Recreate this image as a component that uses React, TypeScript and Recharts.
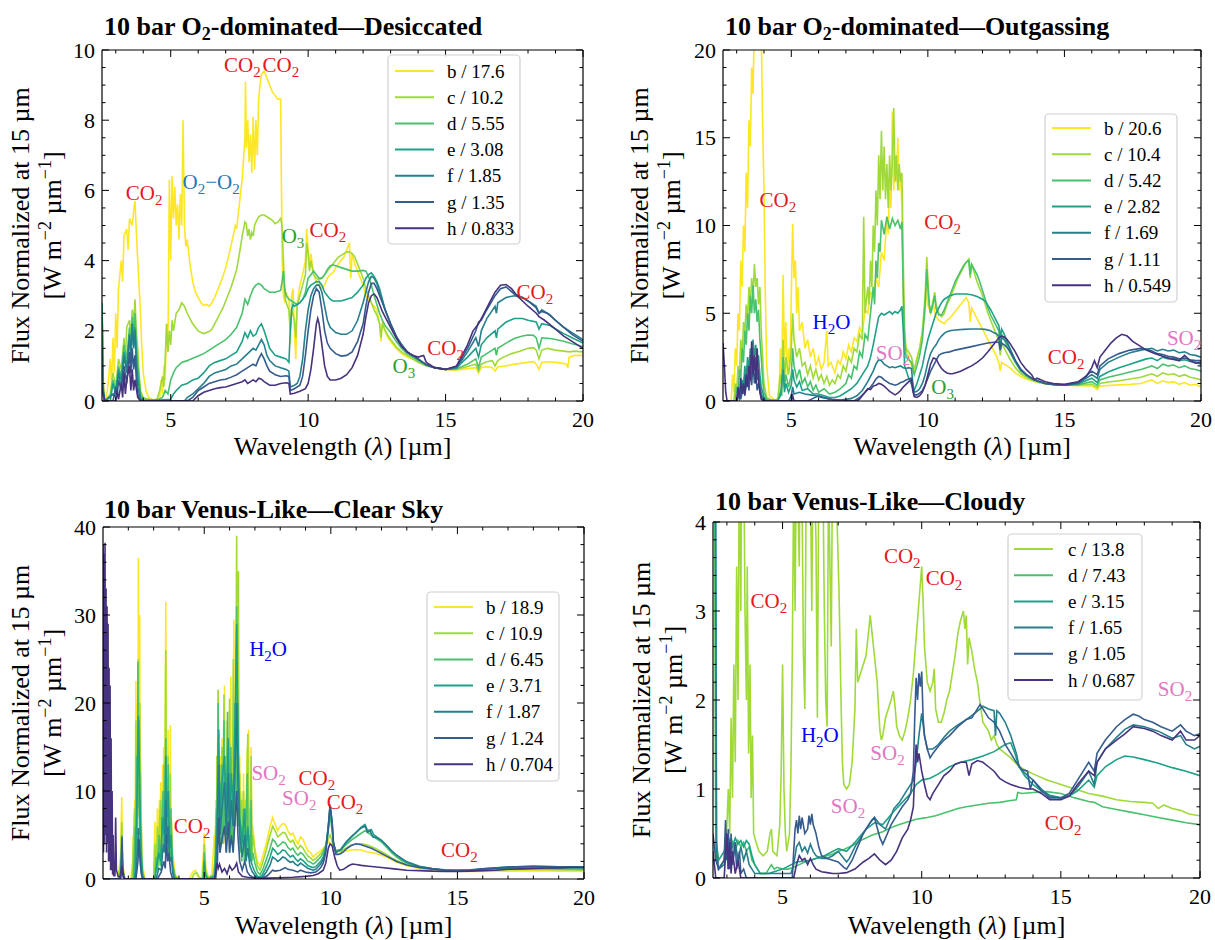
import React from 'react';
import { LineChart, Line, XAxis, YAxis, ReferenceDot } from 'recharts';

const FONT = "'Liberation Serif','Times New Roman',serif";

// ---------- colours (viridis) ----------
const COL_B = '#fde725';
const COL_C = '#a0da39';
const COL_D = '#4ac16d';
const COL_E = '#1fa187';
const COL_F = '#277f8e';
const COL_G = '#365c8d';
const COL_H = '#46327e';
const RED = '#e31a1c';
const PINK = '#e377c2';
const BLUE = '#0000ff';
const GREEN = '#2ca02c';
const STEEL = '#1f77b4';

// ---------- Panel 1: O2-dominated, Desiccated (x, y pairs) ----------
const P1_LABELS = ['b / 17.6', 'c / 10.2', 'd / 5.55', 'e / 3.08', 'f / 1.85', 'g / 1.35', 'h / 0.833'];
const P1_B = [2.5,2.8, 2.55,0.5, 2.6,0.0, 2.7,0.3, 2.8,1.2, 2.85,0.4, 2.9,1.8, 2.95,0.8, 3.0,2.5, 3.05,1.5, 3.1,3.2, 3.2,4.0, 3.25,3.4, 3.3,4.7, 3.4,4.9, 3.45,4.3, 3.5,5.2, 3.6,5.0, 3.65,5.4, 3.7,5.7, 3.75,4.8, 3.8,4.0, 3.85,3.3, 3.9,2.5, 3.95,1.5, 4.0,0.8, 4.1,0.3, 4.2,0.1, 4.4,0.02, 4.6,0.1, 4.65,0.6, 4.7,0.2, 4.75,1.0, 4.8,0.6, 4.85,2.2, 4.9,1.5, 4.95,6.3, 5.0,4.0, 5.05,6.4, 5.1,5.2, 5.15,6.1, 5.2,5.0, 5.25,5.6, 5.3,4.6, 5.35,5.9, 5.4,5.0, 5.45,8.0, 5.5,5.0, 5.55,4.4, 5.6,4.6, 5.7,3.9, 5.8,3.4, 5.9,3.1, 6.0,2.95, 6.1,2.8, 6.2,2.72, 6.3,2.75, 6.4,2.7, 6.5,2.8, 6.6,2.95, 6.7,3.15, 6.8,3.35, 6.9,3.55, 7.0,3.8, 7.1,4.1, 7.2,4.45, 7.3,4.8, 7.35,5.0, 7.4,4.9, 7.45,5.3, 7.5,5.6, 7.55,6.0, 7.6,6.3, 7.65,6.9, 7.7,7.5, 7.72,9.1, 7.75,7.2, 7.8,8.0, 7.85,6.8, 7.9,7.6, 7.95,6.5, 8.0,8.1, 8.05,6.6, 8.1,8.0, 8.15,7.0, 8.2,8.6, 8.25,9.0, 8.3,9.3, 8.4,9.4, 8.5,9.2, 8.6,9.0, 8.7,8.8, 8.8,8.7, 8.9,8.6, 9.0,8.6, 9.03,6.0, 9.06,3.8, 9.1,3.0, 9.15,2.8, 9.2,3.1, 9.3,2.9, 9.35,1.6, 9.4,3.0, 9.45,3.2, 9.5,2.0, 9.55,1.2, 9.6,2.8, 9.7,3.3, 9.8,3.6, 9.9,4.0, 9.95,4.9, 10.0,4.3, 10.05,3.8, 10.1,4.2, 10.2,3.6, 10.3,3.4, 10.4,3.3, 10.5,3.2, 10.6,3.3, 10.7,3.5, 10.8,3.6, 10.9,3.65, 11.0,3.8, 11.1,3.9, 11.2,4.0, 11.3,4.1, 11.4,4.3, 11.5,4.5, 11.55,3.5, 11.6,4.2, 11.7,3.9, 11.8,3.7, 11.9,3.5, 12.0,3.3, 12.1,3.0, 12.2,2.9, 12.3,2.8, 12.4,2.7, 12.5,2.6, 12.6,2.2, 12.65,1.7, 12.7,2.3, 12.8,2.0, 12.9,1.8, 13.0,1.7, 13.2,1.5, 13.4,1.35, 13.6,1.25, 13.8,1.2, 14.0,1.1, 14.2,1.05, 14.4,1.0, 14.6,0.95, 14.8,0.92, 15.0,0.9, 15.3,0.88, 15.6,0.9, 15.9,0.93, 16.1,0.95, 16.2,0.8, 16.3,0.95, 16.5,0.98, 16.7,0.95, 16.8,0.85, 16.9,0.97, 17.2,1.0, 17.5,1.05, 17.8,1.08, 18.0,1.1, 18.2,1.12, 18.3,1.05, 18.4,0.9, 18.5,1.1, 18.7,1.12, 19.0,1.1, 19.2,1.08, 19.4,1.05, 19.45,0.95, 19.5,1.25, 19.7,1.3, 20.0,1.3];
const P1_C = [2.5,2.6, 2.55,0.3, 2.6,0.0, 2.8,0.2, 2.9,0.8, 3.0,0.4, 3.1,1.2, 3.2,0.9, 3.3,1.8, 3.35,1.2, 3.4,2.1, 3.5,2.3, 3.55,1.8, 3.6,2.6, 3.65,2.2, 3.7,2.9, 3.75,2.0, 3.8,1.5, 3.85,0.8, 3.9,0.3, 4.0,0.1, 4.3,0.02, 4.5,0.05, 4.6,0.3, 4.7,0.7, 4.75,0.4, 4.8,1.2, 4.85,2.2, 4.9,1.4, 4.95,2.0, 5.0,1.6, 5.05,2.3, 5.1,2.0, 5.2,2.5, 5.3,2.6, 5.4,2.8, 5.5,2.7, 5.6,2.5, 5.7,2.35, 5.8,2.2, 5.9,2.1, 6.0,2.0, 6.1,1.95, 6.2,1.92, 6.3,1.95, 6.4,1.98, 6.5,2.05, 6.6,2.2, 6.7,2.35, 6.8,2.5, 6.9,2.65, 7.0,2.85, 7.1,3.05, 7.2,3.25, 7.3,3.5, 7.4,3.75, 7.5,4.2, 7.6,4.7, 7.7,5.1, 7.75,5.05, 7.8,4.7, 7.85,4.9, 7.9,4.6, 7.95,4.8, 8.0,4.7, 8.05,5.0, 8.1,5.1, 8.2,5.25, 8.3,5.3, 8.4,5.3, 8.5,5.25, 8.6,5.2, 8.7,5.15, 8.8,5.05, 8.9,5.1, 9.0,5.2, 9.05,5.0, 9.1,4.0, 9.15,3.0, 9.2,2.8, 9.3,2.6, 9.35,2.0, 9.4,2.6, 9.5,2.3, 9.55,1.8, 9.6,2.7, 9.7,3.0, 9.8,3.3, 9.9,3.6, 9.95,4.5, 10.0,4.2, 10.05,3.7, 10.1,4.0, 10.2,3.6, 10.3,3.5, 10.4,3.45, 10.5,3.5, 10.6,3.6, 10.7,3.7, 10.8,3.8, 10.9,3.9, 11.0,4.0, 11.1,4.1, 11.2,4.15, 11.3,4.2, 11.4,4.25, 11.5,4.25, 11.6,4.2, 11.7,4.1, 11.8,3.9, 11.9,3.7, 12.0,3.5, 12.1,3.2, 12.2,3.0, 12.3,2.8, 12.4,2.6, 12.5,2.45, 12.6,2.2, 12.65,1.8, 12.7,2.2, 12.8,2.0, 13.0,1.75, 13.2,1.55, 13.4,1.4, 13.6,1.3, 13.8,1.2, 14.0,1.1, 14.3,1.0, 14.6,0.95, 15.0,0.9, 15.4,0.9, 15.8,0.98, 16.1,1.05, 16.2,0.85, 16.3,1.05, 16.5,1.12, 16.7,1.15, 16.8,1.0, 16.9,1.15, 17.1,1.25, 17.4,1.35, 17.7,1.42, 18.0,1.5, 18.2,1.52, 18.3,1.45, 18.4,1.2, 18.5,1.45, 18.7,1.5, 19.0,1.45, 19.3,1.42, 19.5,1.4, 19.7,1.42, 20.0,1.4];
const P1_D = [2.5,2.7, 2.55,0.2, 2.6,0.0, 2.8,0.1, 2.9,0.6, 3.0,0.3, 3.1,1.0, 3.2,0.7, 3.3,1.6, 3.4,1.2, 3.5,2.1, 3.55,1.5, 3.6,2.4, 3.65,1.9, 3.7,2.5, 3.75,1.6, 3.8,1.0, 3.9,0.2, 4.0,0.05, 4.5,0.02, 4.7,0.1, 4.8,0.3, 4.9,0.2, 5.0,0.6, 5.1,0.8, 5.2,0.95, 5.4,1.1, 5.6,1.15, 5.8,1.22, 6.0,1.28, 6.2,1.35, 6.4,1.45, 6.6,1.55, 6.8,1.65, 7.0,1.75, 7.2,1.9, 7.4,2.1, 7.6,2.5, 7.7,2.9, 7.8,2.75, 7.9,3.0, 8.0,3.2, 8.1,3.3, 8.2,3.35, 8.3,3.3, 8.4,3.2, 8.5,3.15, 8.6,3.1, 8.8,3.1, 9.0,3.15, 9.05,3.4, 9.1,3.7, 9.15,3.2, 9.2,3.0, 9.3,2.9, 9.4,2.85, 9.5,2.8, 9.6,2.75, 9.7,2.8, 9.8,2.9, 9.9,3.1, 10.0,3.5, 10.1,3.6, 10.2,3.7, 10.3,3.6, 10.4,3.5, 10.5,3.5, 10.6,3.6, 10.7,3.75, 10.8,3.85, 10.9,3.88, 11.0,3.85, 11.2,3.8, 11.4,3.75, 11.6,3.7, 11.8,3.7, 12.0,3.72, 12.1,3.7, 12.2,3.55, 12.3,3.3, 12.4,3.0, 12.5,2.75, 12.6,2.5, 12.7,2.3, 12.8,2.15, 13.0,1.95, 13.2,1.7, 13.4,1.5, 13.6,1.35, 13.8,1.25, 14.0,1.15, 14.3,1.02, 14.6,0.95, 15.0,0.9, 15.4,0.92, 15.8,1.05, 16.1,1.2, 16.2,0.95, 16.3,1.25, 16.5,1.35, 16.8,1.5, 16.85,1.3, 16.9,1.5, 17.2,1.65, 17.5,1.78, 17.8,1.85, 18.0,1.88, 18.2,1.87, 18.3,1.8, 18.4,1.5, 18.5,1.8, 18.8,1.78, 19.0,1.75, 19.3,1.7, 19.6,1.63, 20.0,1.55];
const P1_E = [2.5,2.8, 2.55,0.3, 2.6,0.0, 2.8,0.0, 2.9,0.5, 3.0,0.2, 3.1,0.9, 3.2,0.6, 3.3,1.4, 3.4,1.0, 3.5,1.8, 3.55,1.3, 3.6,2.2, 3.65,1.6, 3.7,2.1, 3.75,1.3, 3.8,0.7, 3.9,0.1, 4.0,0.0, 5.0,0.05, 5.1,0.2, 5.2,0.3, 5.4,0.45, 5.6,0.5, 5.8,0.6, 6.0,0.65, 6.2,0.8, 6.4,1.0, 6.6,1.1, 6.8,1.15, 7.0,1.2, 7.2,1.3, 7.4,1.4, 7.6,1.7, 7.7,1.95, 7.8,1.8, 7.9,2.0, 8.0,1.85, 8.1,1.9, 8.2,2.1, 8.3,2.2, 8.4,2.0, 8.5,1.75, 8.6,1.5, 8.8,1.3, 9.0,1.25, 9.2,1.2, 9.3,1.1, 9.35,2.0, 9.4,2.6, 9.45,2.75, 9.5,2.7, 9.6,2.75, 9.7,2.8, 9.8,2.9, 9.9,3.0, 10.0,3.2, 10.1,3.3, 10.2,3.35, 10.3,3.4, 10.4,3.4, 10.5,3.3, 10.6,3.1, 10.7,3.0, 10.8,2.9, 10.9,2.85, 11.0,2.85, 11.2,2.85, 11.4,2.9, 11.6,2.95, 11.8,3.1, 12.0,3.3, 12.1,3.5, 12.2,3.6, 12.3,3.65, 12.4,3.55, 12.5,3.4, 12.6,3.2, 12.7,2.9, 12.8,2.6, 13.0,2.2, 13.2,1.85, 13.4,1.6, 13.6,1.4, 13.8,1.3, 14.0,1.18, 14.3,1.03, 14.6,0.95, 15.0,0.9, 15.4,0.95, 15.8,1.25, 16.1,1.5, 16.2,1.25, 16.3,1.6, 16.5,1.8, 16.8,2.0, 16.85,1.8, 16.9,2.05, 17.2,2.25, 17.5,2.35, 17.8,2.35, 18.0,2.3, 18.3,2.25, 18.4,2.05, 18.5,2.2, 18.8,2.15, 19.0,2.05, 19.3,1.92, 19.6,1.8, 20.0,1.65];
const P1_F = [2.5,1.5, 2.55,0.2, 2.6,0.0, 2.9,0.2, 3.0,0.1, 3.1,0.8, 3.2,0.4, 3.3,1.3, 3.4,0.8, 3.5,1.9, 3.55,1.2, 3.6,2.2, 3.65,1.5, 3.7,2.0, 3.75,1.0, 3.8,0.4, 3.9,0.05, 4.0,0.0, 5.5,0.0, 5.6,0.1, 5.8,0.2, 6.0,0.35, 6.2,0.5, 6.4,0.7, 6.6,0.8, 6.8,0.85, 7.0,0.9, 7.2,1.0, 7.4,1.05, 7.6,1.2, 7.8,1.35, 8.0,1.5, 8.1,1.45, 8.2,1.6, 8.3,1.75, 8.4,1.6, 8.5,1.3, 8.6,1.15, 8.8,1.0, 9.0,0.95, 9.2,0.9, 9.3,0.85, 9.35,0.4, 9.5,0.45, 9.6,0.5, 9.7,0.7, 9.8,1.2, 9.9,2.0, 10.0,2.6, 10.1,3.0, 10.2,3.2, 10.3,3.3, 10.4,3.3, 10.5,3.1, 10.6,2.7, 10.7,2.3, 10.8,2.1, 11.0,1.95, 11.2,1.9, 11.4,1.9, 11.6,2.0, 11.8,2.3, 12.0,2.8, 12.1,3.1, 12.2,3.4, 12.3,3.55, 12.4,3.5, 12.5,3.35, 12.6,3.1, 12.7,2.85, 12.8,2.6, 13.0,2.2, 13.2,1.85, 13.4,1.6, 13.6,1.4, 13.8,1.3, 14.0,1.2, 14.3,1.03, 14.6,0.95, 15.0,0.9, 15.4,0.95, 15.8,1.4, 16.1,1.8, 16.2,1.55, 16.3,2.0, 16.5,2.35, 16.8,2.7, 16.85,2.5, 16.9,2.8, 17.2,2.95, 17.5,3.0, 17.8,2.95, 18.0,2.85, 18.3,2.7, 18.4,2.5, 18.5,2.6, 18.8,2.45, 19.0,2.3, 19.3,2.1, 19.6,1.95, 20.0,1.75];
const P1_G = [2.5,0.5, 2.6,0.0, 2.9,0.0, 3.0,0.4, 3.05,0.1, 3.1,0.6, 3.2,0.3, 3.3,1.0, 3.4,0.5, 3.5,1.4, 3.55,0.8, 3.6,1.5, 3.65,0.9, 3.7,1.3, 3.75,0.6, 3.8,0.2, 3.9,0.0, 5.6,0.0, 5.8,0.1, 6.0,0.3, 6.2,0.4, 6.4,0.5, 6.6,0.55, 6.8,0.6, 7.0,0.62, 7.2,0.68, 7.4,0.75, 7.6,0.85, 7.8,0.95, 8.0,1.05, 8.1,1.0, 8.2,1.2, 8.3,1.35, 8.4,1.2, 8.5,1.0, 8.6,0.85, 8.8,0.75, 9.0,0.7, 9.2,0.72, 9.3,0.7, 9.35,0.3, 9.5,0.35, 9.7,0.45, 9.8,0.7, 9.9,1.3, 10.0,2.0, 10.1,2.6, 10.2,3.0, 10.3,3.2, 10.4,3.1, 10.5,2.6, 10.6,2.0, 10.7,1.65, 10.8,1.5, 11.0,1.35, 11.2,1.28, 11.4,1.3, 11.6,1.4, 11.8,1.7, 12.0,2.2, 12.1,2.7, 12.2,3.1, 12.3,3.35, 12.4,3.35, 12.5,3.2, 12.6,3.0, 12.7,2.8, 12.8,2.6, 13.0,2.2, 13.2,1.85, 13.4,1.6, 13.6,1.4, 13.8,1.3, 14.0,1.2, 14.3,1.03, 14.6,0.95, 15.0,0.9, 15.4,0.98, 15.8,1.5, 16.1,2.0, 16.2,2.25, 16.3,2.3, 16.5,2.6, 16.8,3.0, 17.0,3.2, 17.2,3.25, 17.5,3.05, 17.8,2.95, 18.0,2.85, 18.3,2.65, 18.4,2.5, 18.5,2.55, 18.7,2.5, 19.0,2.3, 19.3,2.1, 19.6,1.9, 20.0,1.7];
const P1_H = [2.5,0.3, 2.6,0.0, 3.0,0.0, 3.05,0.3, 3.1,0.05, 3.2,0.5, 3.25,0.1, 3.3,0.8, 3.35,0.2, 3.4,0.6, 3.5,1.0, 3.55,0.3, 3.6,0.9, 3.65,0.3, 3.7,0.6, 3.8,0.1, 3.9,0.0, 5.8,0.0, 6.0,0.15, 6.2,0.25, 6.4,0.3, 6.6,0.35, 6.8,0.38, 7.0,0.4, 7.2,0.45, 7.4,0.5, 7.6,0.55, 7.7,0.6, 7.8,0.5, 8.0,0.6, 8.1,0.55, 8.2,0.65, 8.3,0.62, 8.4,0.55, 8.6,0.45, 8.8,0.45, 9.0,0.5, 9.2,0.52, 9.3,0.5, 9.35,0.2, 9.5,0.22, 9.7,0.28, 9.9,0.35, 10.0,0.5, 10.1,0.9, 10.2,1.5, 10.3,2.2, 10.35,2.35, 10.4,2.2, 10.5,1.6, 10.6,1.0, 10.7,0.7, 10.8,0.6, 11.0,0.6, 11.2,0.65, 11.4,0.75, 11.6,0.95, 11.8,1.3, 12.0,1.9, 12.1,2.4, 12.2,2.8, 12.3,3.0, 12.4,3.05, 12.5,2.95, 12.6,2.75, 12.7,2.55, 12.8,2.4, 13.0,2.1, 13.2,1.8, 13.4,1.55, 13.6,1.4, 13.8,1.3, 14.0,1.25, 14.2,1.3, 14.3,1.1, 14.6,0.95, 15.0,0.9, 15.4,1.0, 15.8,1.6, 16.0,2.0, 16.2,2.2, 16.4,2.5, 16.6,2.8, 16.8,3.1, 17.0,3.3, 17.2,3.32, 17.4,3.2, 17.6,3.0, 17.8,2.85, 18.0,2.7, 18.3,2.5, 18.4,2.4, 18.6,2.3, 19.0,2.05, 19.3,1.85, 19.6,1.7, 20.0,1.5];

// ---------- Panel 2: O2-dominated, Outgassing ----------
const P2_LABELS = ['b / 20.6', 'c / 10.4', 'd / 5.42', 'e / 2.82', 'f / 1.69', 'g / 1.11', 'h / 0.549'];
const P2_B = [2.5,0.0, 2.8,0.0, 2.85,1.5, 2.9,0.5, 2.95,3.0, 3.0,2.0, 3.05,5.0, 3.1,4.0, 3.15,8.0, 3.2,6.5, 3.25,10.0, 3.3,8.5, 3.35,13.0, 3.4,11.0, 3.45,16.0, 3.5,14.5, 3.55,19.0, 3.6,17.5, 3.65,22.0, 3.7,20.5, 3.75,23.0, 3.8,21.0, 3.85,23.0, 3.9,21.0, 3.95,16.0, 4.0,12.0, 4.05,6.0, 4.1,2.0, 4.2,0.3, 4.4,0.05, 4.55,0.2, 4.6,3.0, 4.65,1.0, 4.7,7.2, 4.75,2.5, 4.8,4.5, 4.85,1.5, 4.9,3.0, 4.95,2.0, 5.0,6.0, 5.05,10.1, 5.1,7.0, 5.15,8.0, 5.2,5.0, 5.25,6.5, 5.3,4.0, 5.4,4.5, 5.5,3.0, 5.6,3.5, 5.7,2.5, 5.8,3.0, 5.9,2.0, 6.0,2.5, 6.1,1.8, 6.2,2.2, 6.3,4.0, 6.35,2.0, 6.45,2.2, 6.6,1.6, 6.7,2.3, 6.8,2.1, 6.9,2.8, 7.0,2.4, 7.1,3.2, 7.2,2.8, 7.3,3.6, 7.4,3.4, 7.5,4.2, 7.6,3.8, 7.7,5.2, 7.8,5.0, 7.9,6.2, 8.0,6.0, 8.1,7.0, 8.2,6.5, 8.3,8.5, 8.4,8.0, 8.5,10.5, 8.55,9.5, 8.6,12.5, 8.65,11.0, 8.7,16.5, 8.75,12.0, 8.8,14.0, 8.85,12.5, 8.9,15.0, 8.95,12.0, 9.0,13.0, 9.05,11.0, 9.1,6.0, 9.15,3.5, 9.2,3.0, 9.3,2.5, 9.4,2.0, 9.5,1.5, 9.6,2.5, 9.7,3.0, 9.8,4.0, 9.9,5.0, 9.95,6.5, 10.0,5.5, 10.1,5.0, 10.2,5.5, 10.3,4.8, 10.4,4.6, 10.5,4.5, 10.6,4.4, 10.7,4.6, 10.8,4.7, 10.9,4.9, 11.0,5.1, 11.1,5.3, 11.2,5.5, 11.3,5.7, 11.4,5.9, 11.5,5.6, 11.55,4.5, 11.6,5.3, 11.7,5.0, 11.8,4.7, 11.9,4.4, 12.0,4.1, 12.1,3.8, 12.2,3.5, 12.3,3.2, 12.4,2.9, 12.5,2.6, 12.6,2.2, 12.65,1.7, 12.7,2.2, 12.8,2.1, 12.9,2.0, 13.0,1.9, 13.2,1.6, 13.4,1.4, 13.6,1.25, 13.8,1.15, 14.0,1.05, 14.3,0.98, 14.6,0.92, 15.0,0.9, 15.5,0.87, 16.0,0.86, 16.2,0.65, 16.3,0.85, 16.6,0.88, 17.0,0.92, 17.4,0.95, 17.8,1.0, 18.0,1.1, 18.2,1.2, 18.4,1.0, 18.6,1.15, 18.8,1.05, 19.0,1.1, 19.2,0.95, 19.4,1.05, 19.6,0.9, 19.8,0.95, 20.0,0.8];
const P2_C = [2.5,0.0, 2.9,0.0, 2.95,1.0, 3.0,0.5, 3.05,2.0, 3.1,1.5, 3.15,3.5, 3.2,2.5, 3.25,4.5, 3.3,3.8, 3.35,5.5, 3.4,4.5, 3.45,6.5, 3.5,5.5, 3.55,7.0, 3.6,6.0, 3.65,7.8, 3.7,6.5, 3.75,7.0, 3.8,5.5, 3.85,6.5, 3.9,4.0, 3.95,2.5, 4.0,1.0, 4.1,0.2, 4.3,0.02, 4.5,0.1, 4.6,1.5, 4.65,0.8, 4.7,3.5, 4.75,1.2, 4.8,2.5, 4.9,1.5, 5.0,3.0, 5.05,5.0, 5.1,3.5, 5.2,2.5, 5.3,3.0, 5.4,2.0, 5.5,2.2, 5.6,1.5, 5.7,2.0, 5.8,1.3, 5.9,1.8, 6.0,1.2, 6.1,1.5, 6.2,1.0, 6.3,1.4, 6.4,0.9, 6.5,1.2, 6.6,1.0, 6.7,1.5, 6.8,1.3, 6.9,2.0, 7.0,1.7, 7.1,2.5, 7.2,2.2, 7.3,3.0, 7.4,2.8, 7.5,3.8, 7.6,3.5, 7.65,10.5, 7.7,5.0, 7.8,6.5, 7.85,5.5, 7.9,8.0, 7.95,6.5, 8.0,10.0, 8.05,8.5, 8.1,12.0, 8.15,10.0, 8.2,14.0, 8.25,11.5, 8.3,15.4, 8.35,12.0, 8.4,14.5, 8.45,11.5, 8.5,13.5, 8.55,11.0, 8.6,14.0, 8.65,12.0, 8.7,13.5, 8.75,16.7, 8.8,12.5, 8.85,14.0, 8.9,12.0, 8.95,13.5, 9.0,12.5, 9.05,13.0, 9.1,8.0, 9.15,4.0, 9.2,3.0, 9.3,2.8, 9.4,2.5, 9.5,1.8, 9.6,2.4, 9.7,3.0, 9.8,4.0, 9.9,6.0, 9.96,8.2, 10.0,7.0, 10.05,5.5, 10.1,5.0, 10.2,5.8, 10.25,6.2, 10.3,5.5, 10.4,5.0, 10.5,4.8, 10.6,5.0, 10.7,5.5, 10.8,5.8, 10.9,6.2, 11.0,6.6, 11.1,7.0, 11.2,7.3, 11.3,7.6, 11.4,7.9, 11.5,8.1, 11.55,7.0, 11.6,7.8, 11.7,7.3, 11.8,6.8, 11.9,6.4, 12.0,6.0, 12.1,5.5, 12.2,5.0, 12.3,4.6, 12.4,4.2, 12.5,3.8, 12.6,3.5, 12.65,2.6, 12.7,3.3, 12.8,3.0, 12.9,2.7, 13.0,2.4, 13.2,1.9, 13.4,1.55, 13.6,1.35, 13.8,1.2, 14.0,1.08, 14.3,0.98, 14.6,0.93, 15.0,0.9, 15.5,0.9, 16.0,0.97, 16.2,0.78, 16.3,1.0, 16.6,1.08, 17.0,1.15, 17.4,1.25, 17.8,1.35, 18.0,1.45, 18.2,1.55, 18.4,1.4, 18.6,1.6, 18.8,1.5, 19.0,1.55, 19.2,1.4, 19.4,1.5, 19.6,1.35, 19.8,1.3, 20.0,1.2];
const P2_D = [2.5,0.0, 2.95,0.0, 3.0,0.8, 3.05,0.4, 3.1,1.8, 3.15,1.2, 3.2,3.0, 3.25,2.2, 3.3,4.0, 3.35,3.2, 3.4,5.0, 3.45,4.0, 3.5,6.0, 3.55,5.0, 3.6,6.6, 3.65,5.0, 3.7,5.8, 3.75,4.5, 3.8,5.2, 3.85,3.5, 3.9,2.5, 3.95,1.2, 4.0,0.5, 4.1,0.1, 4.5,0.02, 4.6,0.5, 4.65,0.3, 4.7,2.5, 4.75,0.8, 4.8,1.5, 4.9,0.8, 5.0,1.5, 5.05,3.0, 5.1,2.0, 5.2,1.3, 5.3,1.8, 5.4,1.0, 5.5,1.3, 5.6,0.8, 5.7,1.1, 5.8,0.6, 5.9,0.9, 6.0,0.5, 6.2,0.7, 6.4,0.4, 6.6,0.5, 6.8,0.7, 7.0,1.0, 7.1,1.5, 7.2,1.3, 7.3,2.0, 7.4,1.8, 7.5,2.8, 7.6,2.5, 7.7,3.8, 7.8,3.5, 7.9,5.0, 8.0,6.5, 8.05,5.5, 8.1,8.0, 8.15,7.0, 8.2,9.0, 8.25,8.5, 8.3,10.3, 8.4,9.5, 8.5,10.5, 8.6,9.8, 8.7,10.4, 8.8,10.0, 8.9,10.3, 9.0,9.8, 9.05,10.2, 9.1,6.0, 9.15,3.5, 9.2,2.5, 9.4,2.2, 9.5,1.5, 9.6,2.0, 9.7,2.6, 9.8,3.5, 9.9,5.5, 9.96,7.5, 10.0,6.5, 10.05,5.5, 10.1,5.0, 10.2,5.6, 10.25,6.0, 10.3,5.3, 10.4,4.9, 10.5,4.9, 10.6,5.2, 10.7,5.6, 10.8,6.0, 10.9,6.4, 11.0,6.8, 11.1,7.1, 11.2,7.4, 11.3,7.7, 11.4,7.9, 11.5,8.0, 11.55,7.2, 11.6,7.8, 11.7,7.5, 11.8,7.2, 11.9,6.8, 12.0,6.3, 12.1,5.8, 12.2,5.3, 12.3,4.9, 12.4,4.6, 12.5,4.3, 12.6,4.0, 12.65,3.0, 12.7,3.8, 12.8,3.5, 12.9,3.1, 13.0,2.8, 13.2,2.2, 13.4,1.7, 13.6,1.45, 13.8,1.25, 14.0,1.12, 14.3,1.0, 14.6,0.94, 15.0,0.9, 15.5,0.93, 16.0,1.1, 16.2,0.9, 16.3,1.2, 16.6,1.35, 17.0,1.5, 17.4,1.65, 17.8,1.8, 18.0,1.9, 18.2,2.0, 18.4,1.85, 18.6,2.1, 18.8,2.0, 19.0,2.05, 19.2,1.9, 19.4,2.0, 19.6,1.85, 19.8,1.8, 20.0,1.7];
const P2_E = [2.5,0.0, 3.0,0.0, 3.05,0.5, 3.1,0.2, 3.2,1.2, 3.25,0.8, 3.3,2.0, 3.35,1.3, 3.4,2.5, 3.45,1.8, 3.5,3.0, 3.55,2.2, 3.6,3.5, 3.65,2.5, 3.7,3.2, 3.75,2.0, 3.8,2.6, 3.85,1.5, 3.9,0.8, 4.0,0.2, 4.1,0.0, 4.5,0.0, 4.6,0.3, 4.7,1.8, 4.75,0.5, 4.8,1.0, 4.9,0.5, 5.0,0.9, 5.05,1.8, 5.1,1.2, 5.2,0.8, 5.3,1.1, 5.4,0.6, 5.6,0.7, 5.8,0.4, 6.0,0.4, 6.2,0.3, 6.4,0.2, 6.6,0.2, 6.8,0.3, 7.0,0.5, 7.2,0.7, 7.4,1.0, 7.6,1.5, 7.8,2.0, 7.9,2.5, 8.0,3.2, 8.1,4.0, 8.2,4.8, 8.3,5.0, 8.4,4.9, 8.5,5.0, 8.6,5.1, 8.7,4.95, 8.8,5.1, 8.9,5.0, 9.0,5.2, 9.05,5.4, 9.1,4.0, 9.15,2.0, 9.3,1.3, 9.5,0.6, 9.6,1.0, 9.7,1.5, 9.8,2.0, 9.9,2.8, 10.0,3.5, 10.1,4.0, 10.2,4.5, 10.3,5.0, 10.4,5.3, 10.5,5.6, 10.6,5.8, 10.7,5.9, 10.8,6.0, 11.0,6.1, 11.2,6.1, 11.4,6.1, 11.6,6.05, 11.8,5.95, 12.0,5.8, 12.1,5.7, 12.2,5.45, 12.3,5.2, 12.4,4.9, 12.5,4.6, 12.6,4.3, 12.65,3.6, 12.7,4.1, 12.8,3.8, 12.9,3.4, 13.0,3.0, 13.2,2.3, 13.4,1.8, 13.6,1.5, 13.8,1.3, 14.0,1.15, 14.3,1.0, 14.6,0.94, 15.0,0.9, 15.5,0.97, 16.0,1.3, 16.2,1.05, 16.3,1.4, 16.6,1.65, 17.0,1.9, 17.4,2.1, 17.8,2.3, 18.0,2.4, 18.2,2.45, 18.4,2.3, 18.6,2.5, 18.8,2.4, 19.0,2.45, 19.2,2.3, 19.4,2.35, 19.6,2.25, 19.8,2.2, 20.0,2.1];
const P2_F = [2.5,0.0, 3.0,0.0, 3.05,0.3, 3.1,0.1, 3.2,0.9, 3.25,0.4, 3.3,1.5, 3.35,0.8, 3.4,2.0, 3.45,1.2, 3.5,2.6, 3.55,1.5, 3.6,3.0, 3.65,1.8, 3.7,2.5, 3.75,1.2, 3.8,1.8, 3.9,0.4, 4.0,0.05, 4.1,0.0, 4.9,0.0, 5.0,0.3, 5.05,0.8, 5.1,0.4, 5.3,0.5, 5.5,0.4, 5.7,0.35, 5.9,0.3, 6.1,0.2, 6.3,0.15, 6.5,0.1, 6.8,0.05, 7.0,0.1, 7.2,0.15, 7.4,0.3, 7.6,0.6, 7.8,1.1, 8.0,1.7, 8.1,2.1, 8.2,2.35, 8.3,2.3, 8.4,2.1, 8.5,2.0, 8.6,1.9, 8.7,1.95, 8.8,1.9, 8.9,1.95, 9.0,2.0, 9.1,1.9, 9.2,1.85, 9.3,1.9, 9.4,1.85, 9.45,1.0, 9.5,0.5, 9.6,0.55, 9.7,0.7, 9.8,1.0, 9.9,1.5, 10.0,2.2, 10.1,2.7, 10.2,3.0, 10.3,3.2, 10.4,3.5, 10.5,3.7, 10.6,3.85, 10.7,3.95, 10.8,4.0, 11.0,4.05, 11.3,4.08, 11.6,4.1, 11.9,4.1, 12.1,4.08, 12.3,4.0, 12.4,3.9, 12.5,3.85, 12.6,3.7, 12.65,3.0, 12.7,3.6, 12.8,3.5, 12.9,3.3, 13.0,3.0, 13.2,2.3, 13.4,1.8, 13.6,1.5, 13.8,1.3, 14.0,1.15, 14.3,1.0, 14.6,0.94, 15.0,0.9, 15.5,1.0, 16.0,1.5, 16.2,1.3, 16.3,1.8, 16.6,2.2, 17.0,2.5, 17.4,2.75, 17.8,2.9, 18.0,2.95, 18.2,3.0, 18.4,2.85, 18.6,2.95, 18.8,2.85, 19.0,2.9, 19.2,2.75, 19.4,2.8, 19.6,2.65, 19.8,2.6, 20.0,2.5];
const P2_G = [2.5,0.0, 3.0,0.0, 3.1,0.4, 3.15,0.1, 3.25,0.9, 3.3,0.4, 3.4,1.3, 3.45,0.6, 3.5,1.8, 3.55,0.9, 3.6,2.2, 3.65,1.0, 3.7,1.6, 3.75,0.6, 3.8,1.0, 3.9,0.2, 4.0,0.0, 5.6,0.0, 5.8,0.15, 6.0,0.3, 6.2,0.2, 6.4,0.1, 6.6,0.05, 7.0,0.05, 7.3,0.0, 7.5,0.2, 7.7,0.5, 7.9,0.8, 8.0,1.0, 8.1,1.25, 8.2,1.4, 8.3,1.35, 8.4,1.2, 8.5,1.1, 8.6,1.0, 8.7,0.95, 8.8,0.9, 8.9,0.95, 9.0,1.05, 9.1,1.1, 9.2,1.2, 9.3,1.25, 9.4,1.3, 9.45,0.6, 9.5,0.35, 9.6,0.35, 9.7,0.45, 9.8,0.6, 9.9,0.9, 10.0,1.3, 10.1,1.7, 10.2,2.0, 10.3,2.3, 10.4,2.6, 10.5,2.7, 10.6,2.75, 10.8,2.8, 11.0,2.9, 11.3,3.0, 11.6,3.1, 11.9,3.2, 12.2,3.3, 12.4,3.35, 12.6,3.35, 12.65,2.9, 12.7,3.3, 12.8,3.2, 12.9,3.05, 13.0,2.85, 13.2,2.3, 13.4,1.8, 13.6,1.5, 13.8,1.3, 14.0,1.15, 14.3,1.0, 14.6,0.94, 15.0,0.9, 15.5,1.05, 16.0,1.7, 16.2,1.5, 16.3,2.0, 16.6,2.4, 17.0,2.7, 17.4,2.9, 17.8,3.0, 18.0,2.95, 18.2,2.85, 18.4,2.7, 18.6,2.65, 18.8,2.55, 19.0,2.5, 19.2,2.4, 19.4,2.45, 19.6,2.35, 19.8,2.3, 20.0,2.3];
const P2_H = [2.5,3.3, 2.55,2.0, 2.6,0.5, 2.65,0.0, 3.0,0.0, 3.05,0.8, 3.1,0.2, 3.15,1.3, 3.2,0.4, 3.25,1.0, 3.3,0.3, 3.35,1.5, 3.4,0.8, 3.45,2.0, 3.5,1.2, 3.55,3.4, 3.6,1.5, 3.65,2.6, 3.7,1.0, 3.75,3.0, 3.8,1.2, 3.85,0.5, 3.9,0.1, 4.0,0.0, 5.0,0.0, 5.05,0.3, 5.1,0.0, 7.4,0.0, 7.5,0.1, 7.7,0.5, 7.8,0.7, 7.9,0.65, 8.0,0.85, 8.1,0.9, 8.2,1.0, 8.3,0.95, 8.4,0.85, 8.5,0.7, 8.6,0.55, 8.7,0.45, 8.8,0.35, 8.9,0.45, 9.0,0.6, 9.1,0.8, 9.2,0.95, 9.3,1.1, 9.4,1.2, 9.45,0.6, 9.5,0.25, 9.6,0.2, 9.7,0.3, 9.8,0.5, 9.9,0.9, 10.0,1.5, 10.1,2.1, 10.2,2.45, 10.3,2.4, 10.4,2.1, 10.5,1.85, 10.6,1.7, 10.7,1.6, 10.8,1.55, 10.9,1.55, 11.0,1.6, 11.2,1.7, 11.4,1.85, 11.6,2.0, 11.8,2.2, 12.0,2.45, 12.2,2.8, 12.4,3.2, 12.6,3.6, 12.7,3.7, 12.8,3.65, 12.9,3.5, 13.0,3.3, 13.2,2.8, 13.4,2.2, 13.6,1.8, 13.8,1.5, 13.9,1.2, 14.0,1.3, 14.3,1.1, 14.6,1.0, 15.0,0.95, 15.5,1.1, 15.8,1.4, 16.0,1.9, 16.1,2.3, 16.2,1.9, 16.3,2.5, 16.5,2.9, 16.7,3.3, 16.9,3.6, 17.1,3.8, 17.3,3.7, 17.5,3.4, 17.8,3.1, 18.0,2.9, 18.3,2.7, 18.6,2.55, 18.9,2.4, 19.2,2.3, 19.4,2.6, 19.6,2.3, 19.8,2.15, 20.0,2.2];

// ---------- Panel 3: Venus-like, clear sky ----------
const P3_LABELS = ['b / 18.9', 'c / 10.9', 'd / 6.45', 'e / 3.71', 'f / 1.87', 'g / 1.24', 'h / 0.704'];
const P3_B = [1.0,0.0, 1.6,0.0, 1.7,3.0, 1.74,9.3, 1.78,2.0, 1.85,0.0, 2.1,0.0, 2.18,2.0, 2.2,5.0, 2.22,1.0, 2.25,9.0, 2.27,3.0, 2.3,22.5, 2.32,6.0, 2.35,20.0, 2.37,8.0, 2.4,36.5, 2.42,10.0, 2.45,30.0, 2.47,6.0, 2.5,12.0, 2.52,3.0, 2.55,2.0, 2.65,0.0, 3.0,0.0, 3.05,6.5, 3.07,1.0, 3.1,2.0, 3.13,5.0, 3.15,8.0, 3.17,2.0, 3.2,4.0, 3.23,9.0, 3.25,3.0, 3.28,11.0, 3.3,4.0, 3.33,6.0, 3.36,13.0, 3.38,5.0, 3.4,15.0, 3.42,6.0, 3.44,10.0, 3.46,20.0, 3.48,31.5, 3.5,8.0, 3.52,15.0, 3.54,6.0, 3.57,17.0, 3.59,5.0, 3.62,8.0, 3.64,3.0, 3.66,17.5, 3.68,4.0, 3.7,7.0, 3.75,3.0, 3.85,0.5, 4.0,0.0, 4.4,0.0, 4.55,0.8, 4.65,1.0, 4.75,0.3, 4.9,0.0, 4.97,3.0, 5.0,5.2, 5.05,1.5, 5.15,0.2, 5.3,0.5, 5.4,5.0, 5.43,1.5, 5.46,9.0, 5.49,2.0, 5.52,12.0, 5.55,21.5, 5.57,4.0, 5.6,10.0, 5.62,3.0, 5.65,14.0, 5.67,4.0, 5.7,16.0, 5.72,5.0, 5.75,12.0, 5.77,4.0, 5.8,22.0, 5.82,6.0, 5.85,12.0, 5.87,4.0, 5.9,18.0, 5.92,6.0, 5.95,15.0, 5.97,5.0, 6.0,19.0, 6.02,6.0, 6.05,23.0, 6.07,7.0, 6.1,14.0, 6.12,6.0, 6.15,20.0, 6.17,29.5, 6.19,8.0, 6.22,18.0, 6.24,7.0, 6.26,20.0, 6.28,25.0, 6.3,9.0, 6.33,16.0, 6.35,6.0, 6.38,12.0, 6.4,14.0, 6.42,5.0, 6.45,10.0, 6.48,4.0, 6.5,9.0, 6.53,4.0, 6.55,12.0, 6.58,4.0, 6.62,9.0, 6.65,3.0, 6.68,12.0, 6.7,15.0, 6.72,5.0, 6.75,17.0, 6.78,5.0, 6.8,9.0, 6.83,4.0, 6.85,15.0, 6.88,3.0, 6.92,6.0, 7.0,3.5, 7.1,2.0, 7.2,1.5, 7.3,2.5, 7.45,4.0, 7.6,6.0, 7.7,7.0, 7.8,6.2, 7.9,5.5, 8.0,6.0, 8.1,6.3, 8.2,6.2, 8.3,5.5, 8.4,5.0, 8.5,5.2, 8.6,4.5, 8.7,4.0, 8.8,4.8, 8.9,4.5, 9.0,3.8, 9.1,3.2, 9.2,3.0, 9.3,2.5, 9.4,2.8, 9.5,3.0, 9.6,3.2, 9.7,3.5, 9.8,3.8, 9.9,4.3, 10.0,4.0, 10.1,3.8, 10.2,3.3, 10.3,3.2, 10.4,3.0, 10.5,3.1, 10.6,3.2, 10.8,3.3, 11.0,3.35, 11.2,3.3, 11.4,3.1, 11.6,3.0, 11.8,2.9, 12.0,2.7, 12.2,2.5, 12.4,2.2, 12.6,1.9, 12.8,1.7, 13.0,1.5, 13.5,1.2, 14.0,1.05, 14.5,0.95, 15.0,0.9, 15.5,0.85, 16.0,0.85, 17.0,0.9, 18.0,0.95, 19.0,0.9, 20.0,0.85];
const P3_C = [1.0,0.0, 1.6,0.0, 1.7,2.0, 1.74,6.5, 1.78,1.5, 1.85,0.0, 2.15,0.0, 2.25,8.0, 2.28,2.0, 2.3,18.0, 2.33,6.0, 2.35,15.0, 2.38,7.0, 2.4,25.0, 2.43,9.0, 2.45,20.0, 2.5,8.0, 2.55,1.0, 2.65,0.0, 3.0,0.0, 3.05,4.0, 3.07,0.8, 3.1,1.5, 3.13,4.0, 3.15,6.0, 3.18,1.5, 3.2,3.0, 3.24,7.0, 3.28,9.0, 3.3,3.0, 3.33,5.0, 3.36,10.0, 3.38,4.0, 3.4,13.0, 3.42,5.0, 3.44,9.0, 3.46,15.0, 3.48,26.0, 3.5,7.0, 3.52,12.0, 3.54,5.0, 3.57,14.0, 3.59,4.0, 3.62,6.0, 3.64,2.0, 3.66,12.0, 3.68,3.0, 3.7,5.0, 3.75,2.0, 3.85,0.3, 4.0,0.0, 4.5,0.0, 4.6,0.6, 4.7,0.7, 4.8,0.2, 4.95,0.0, 5.0,4.0, 5.05,1.0, 5.15,0.1, 5.35,0.5, 5.42,2.0, 5.45,6.0, 5.48,1.5, 5.5,14.0, 5.52,4.0, 5.55,21.5, 5.57,5.0, 5.6,9.0, 5.62,3.0, 5.65,13.0, 5.67,4.0, 5.7,15.0, 5.72,4.0, 5.75,11.0, 5.78,21.0, 5.8,5.0, 5.83,14.0, 5.85,11.0, 5.87,4.0, 5.9,13.0, 5.92,16.0, 5.94,5.0, 5.96,9.0, 6.0,20.5, 6.02,5.0, 6.05,14.0, 6.08,12.0, 6.1,5.0, 6.13,17.0, 6.15,25.0, 6.17,8.0, 6.2,18.0, 6.22,6.0, 6.25,22.0, 6.28,39.0, 6.3,12.0, 6.32,25.0, 6.35,35.0, 6.37,8.0, 6.4,12.0, 6.43,4.0, 6.46,9.0, 6.48,7.0, 6.5,3.0, 6.53,8.0, 6.55,10.0, 6.58,3.0, 6.62,6.0, 6.65,3.0, 6.68,10.0, 6.72,16.5, 6.75,4.0, 6.78,8.0, 6.81,3.0, 6.85,14.0, 6.88,3.0, 6.92,5.0, 7.0,3.0, 7.1,1.5, 7.2,1.0, 7.3,1.8, 7.45,3.3, 7.6,5.0, 7.7,6.0, 7.8,5.5, 7.9,4.8, 8.0,5.0, 8.1,5.3, 8.2,5.2, 8.3,4.6, 8.4,4.2, 8.5,4.4, 8.6,3.8, 8.7,3.4, 8.8,3.8, 8.9,3.5, 9.0,3.0, 9.1,2.6, 9.2,2.4, 9.3,2.1, 9.4,2.3, 9.5,2.6, 9.6,2.9, 9.7,3.3, 9.8,3.8, 9.9,4.6, 9.97,5.0, 10.05,4.3, 10.1,3.8, 10.2,3.2, 10.3,3.2, 10.4,3.1, 10.5,3.3, 10.6,3.5, 10.8,3.8, 11.0,4.0, 11.2,4.0, 11.4,3.9, 11.6,3.7, 11.8,3.4, 12.0,3.1, 12.2,2.8, 12.4,2.4, 12.6,2.1, 12.8,1.85, 13.0,1.6, 13.5,1.25, 14.0,1.1, 14.5,1.0, 15.0,0.95, 15.5,0.95, 16.0,0.98, 17.0,1.05, 18.0,1.1, 19.0,1.05, 20.0,1.0];
const P3_D = [1.0,0.0, 1.65,0.0, 1.72,1.5, 1.74,5.0, 1.78,1.0, 1.85,0.0, 2.2,0.0, 2.28,6.0, 2.3,2.0, 2.33,14.0, 2.36,5.0, 2.38,24.7, 2.4,8.0, 2.42,18.0, 2.45,5.0, 2.48,6.0, 2.55,0.5, 2.65,0.0, 3.05,0.0, 3.1,2.5, 3.15,1.0, 3.22,5.0, 3.26,1.5, 3.3,3.0, 3.34,7.0, 3.38,10.0, 3.4,3.0, 3.44,7.0, 3.46,4.0, 3.48,16.0, 3.5,5.0, 3.53,9.0, 3.55,3.0, 3.58,13.0, 3.6,3.0, 3.63,5.0, 3.65,2.0, 3.68,8.0, 3.75,1.5, 3.85,0.2, 4.0,0.0, 4.95,0.0, 5.0,3.0, 5.05,0.6, 5.15,0.0, 5.4,0.4, 5.45,3.0, 5.48,8.0, 5.5,2.0, 5.53,12.0, 5.55,20.0, 5.57,4.0, 5.6,8.0, 5.62,3.0, 5.65,11.0, 5.68,4.0, 5.7,13.0, 5.73,4.0, 5.75,10.0, 5.78,18.0, 5.8,5.0, 5.83,12.0, 5.85,9.0, 5.87,3.0, 5.9,14.0, 5.92,19.0, 5.94,5.0, 5.98,8.0, 6.0,3.0, 6.03,11.0, 6.05,15.0, 6.08,4.0, 6.12,10.0, 6.15,4.0, 6.18,14.0, 6.2,20.0, 6.23,6.0, 6.25,18.0, 6.28,31.0, 6.3,9.0, 6.33,20.0, 6.35,6.0, 6.38,10.0, 6.41,3.0, 6.45,6.0, 6.48,2.0, 6.52,6.0, 6.55,8.0, 6.58,2.0, 6.62,4.0, 6.66,8.0, 6.7,12.0, 6.73,3.0, 6.78,5.0, 6.81,2.0, 6.85,9.0, 6.88,2.0, 6.92,3.0, 7.0,1.8, 7.1,0.8, 7.2,0.5, 7.3,1.0, 7.45,2.2, 7.6,3.5, 7.7,4.5, 7.8,4.2, 7.9,3.7, 8.0,3.9, 8.1,4.2, 8.2,4.1, 8.3,3.6, 8.4,3.3, 8.5,3.5, 8.6,3.0, 8.7,2.7, 8.8,3.0, 8.9,2.8, 9.0,2.4, 9.1,2.0, 9.2,1.9, 9.3,1.7, 9.4,1.9, 9.5,2.2, 9.6,2.5, 9.7,3.0, 9.8,3.8, 9.9,5.5, 9.97,7.3, 10.05,5.5, 10.1,4.0, 10.2,3.2, 10.3,3.3, 10.4,3.3, 10.5,3.6, 10.6,3.9, 10.8,4.4, 11.0,4.8, 11.2,5.2, 11.35,5.5, 11.5,5.2, 11.6,5.0, 11.8,4.6, 12.0,4.2, 12.2,3.6, 12.4,3.0, 12.6,2.5, 12.8,2.1, 13.0,1.8, 13.5,1.35, 14.0,1.15, 14.5,1.0, 15.0,0.95, 15.5,0.98, 16.0,1.05, 17.0,1.15, 18.0,1.2, 19.0,1.15, 20.0,1.1];
const P3_E = [1.0,0.0, 1.65,0.0, 1.72,1.0, 1.74,3.5, 1.78,0.8, 1.85,0.0, 2.25,0.0, 2.3,4.0, 2.35,10.0, 2.4,18.5, 2.44,12.0, 2.5,3.0, 2.58,0.0, 3.05,0.0, 3.12,1.5, 3.2,3.0, 3.28,2.0, 3.35,7.0, 3.42,5.0, 3.48,14.0, 3.53,7.0, 3.58,10.0, 3.63,3.5, 3.68,5.0, 3.75,0.8, 3.85,0.0, 4.98,0.0, 5.0,2.0, 5.05,0.3, 5.15,0.0, 5.42,0.3, 5.5,6.0, 5.57,17.0, 5.62,7.0, 5.7,11.0, 5.8,14.0, 5.87,7.0, 5.95,16.0, 6.0,7.0, 6.07,12.0, 6.14,8.0, 6.22,18.0, 6.28,29.0, 6.33,16.0, 6.4,7.0, 6.5,4.0, 6.6,8.0, 6.65,3.0, 6.72,6.0, 6.8,2.5, 6.9,1.5, 7.0,0.8, 7.1,0.3, 7.2,0.2, 7.3,0.5, 7.45,1.4, 7.6,2.5, 7.7,3.5, 7.8,3.2, 7.9,2.8, 8.0,3.0, 8.1,3.3, 8.2,3.2, 8.3,2.8, 8.4,2.5, 8.5,2.7, 8.6,2.3, 8.7,2.0, 8.8,2.3, 8.9,2.1, 9.0,1.8, 9.1,1.5, 9.2,1.4, 9.3,1.3, 9.4,1.4, 9.5,1.7, 9.6,2.0, 9.7,2.5, 9.8,3.5, 9.9,6.0, 9.97,8.5, 10.05,6.0, 10.1,4.0, 10.2,3.0, 10.3,3.2, 10.4,3.3, 10.5,3.7, 10.6,4.1, 10.8,4.7, 11.0,5.3, 11.2,5.9, 11.35,6.2, 11.45,5.5, 11.6,5.6, 11.7,5.0, 11.8,4.8, 12.0,4.4, 12.2,3.8, 12.4,3.2, 12.6,2.7, 12.8,2.3, 13.0,1.9, 13.5,1.4, 14.0,1.15, 14.5,1.0, 15.0,0.95, 15.5,1.0, 16.0,1.1, 17.0,1.25, 18.0,1.35, 19.0,1.3, 20.0,1.25];
const P3_F = [1.0,0.0, 1.68,0.0, 1.72,0.8, 1.74,2.5, 1.78,0.5, 1.85,0.0, 2.28,0.0, 2.35,3.0, 2.4,5.8, 2.45,3.0, 2.52,0.5, 2.6,0.0, 3.1,0.0, 3.2,1.2, 3.3,1.0, 3.38,4.0, 3.44,3.0, 3.48,9.0, 3.53,4.0, 3.58,6.0, 3.63,2.0, 3.7,2.5, 3.78,0.3, 3.85,0.0, 5.42,0.0, 5.5,3.0, 5.57,13.0, 5.62,5.0, 5.7,8.0, 5.8,11.0, 5.87,5.0, 5.95,12.0, 6.0,5.0, 6.07,9.0, 6.14,6.0, 6.22,13.0, 6.28,20.0, 6.33,11.0, 6.4,5.0, 6.5,2.5, 6.6,5.0, 6.65,2.0, 6.72,3.5, 6.8,1.5, 6.9,0.8, 7.0,0.4, 7.1,0.1, 7.3,0.2, 7.45,0.8, 7.6,1.6, 7.7,2.5, 7.8,2.3, 7.9,2.0, 8.0,2.2, 8.1,2.5, 8.2,2.4, 8.3,2.1, 8.4,1.9, 8.5,2.0, 8.6,1.7, 8.7,1.5, 8.8,1.8, 8.9,1.6, 9.0,1.4, 9.1,1.2, 9.2,1.1, 9.3,1.0, 9.4,1.1, 9.5,1.4, 9.6,1.7, 9.7,2.2, 9.8,3.3, 9.9,6.0, 9.97,8.3, 10.05,6.5, 10.1,4.2, 10.2,3.0, 10.3,3.2, 10.4,3.4, 10.5,3.8, 10.6,4.2, 10.8,4.8, 11.0,5.3, 11.2,5.8, 11.35,6.0, 11.45,5.3, 11.55,5.5, 11.65,4.8, 11.8,4.7, 12.0,4.4, 12.2,3.8, 12.4,3.2, 12.6,2.7, 12.8,2.3, 13.0,1.95, 13.5,1.45, 14.0,1.2, 14.5,1.05, 15.0,1.0, 15.5,1.05, 16.0,1.15, 17.0,1.35, 18.0,1.45, 19.0,1.4, 20.0,1.35];
const P3_G = [1.0,0.0, 1.68,0.0, 1.72,1.5, 1.75,4.8, 1.78,1.0, 1.85,0.0, 2.3,0.0, 2.38,2.0, 2.42,4.5, 2.48,1.5, 2.55,0.0, 3.15,0.0, 3.3,0.8, 3.4,2.0, 3.46,1.2, 3.5,5.0, 3.55,2.0, 3.6,3.0, 3.67,0.8, 3.75,0.0, 5.45,0.0, 5.52,2.0, 5.57,7.0, 5.62,3.0, 5.7,4.5, 5.8,6.0, 5.87,3.0, 5.95,6.5, 6.0,3.0, 6.07,5.0, 6.14,3.0, 6.22,7.0, 6.28,10.0, 6.33,5.0, 6.4,2.0, 6.5,1.0, 6.6,2.0, 6.7,0.8, 6.8,0.4, 7.0,0.1, 7.3,0.1, 7.5,0.4, 7.7,1.0, 7.8,0.9, 8.0,1.0, 8.2,1.3, 8.3,1.1, 8.5,1.0, 8.7,0.8, 8.8,1.0, 9.0,0.8, 9.2,0.7, 9.4,0.8, 9.5,1.0, 9.6,1.3, 9.7,1.8, 9.8,3.0, 9.9,5.8, 9.97,8.3, 10.05,6.5, 10.1,4.2, 10.2,2.8, 10.3,2.8, 10.4,2.9, 10.5,3.1, 10.6,3.4, 10.8,3.8, 11.0,4.0, 11.2,3.9, 11.4,3.7, 11.6,3.5, 11.8,3.2, 12.0,2.9, 12.2,2.6, 12.4,2.3, 12.6,2.0, 12.8,1.8, 13.0,1.6, 13.5,1.3, 14.0,1.15, 14.5,1.0, 15.0,0.95, 15.5,1.0, 16.0,1.15, 17.0,1.35, 18.0,1.45, 19.0,1.4, 20.0,1.35];
const P3_H = [1.0,38.0, 1.02,3.0, 1.04,37.0, 1.06,4.0, 1.08,38.2, 1.1,5.0, 1.12,33.0, 1.14,3.0, 1.16,31.0, 1.18,4.0, 1.2,29.0, 1.22,2.0, 1.24,24.0, 1.26,2.0, 1.28,22.0, 1.3,1.0, 1.32,16.0, 1.34,1.0, 1.36,10.0, 1.38,0.5, 1.4,5.0, 1.42,0.3, 1.45,2.0, 1.47,0.3, 1.5,7.0, 1.53,1.0, 1.6,0.3, 1.7,0.2, 1.75,1.5, 1.8,0.2, 1.9,0.0, 5.4,0.0, 5.45,0.8, 5.5,1.8, 5.55,1.2, 5.6,1.7, 5.7,0.8, 5.8,1.2, 5.9,0.6, 6.0,1.5, 6.1,1.0, 6.2,1.3, 6.28,1.8, 6.35,0.8, 6.5,0.3, 6.7,0.2, 7.0,0.1, 7.5,0.1, 8.0,0.15, 8.5,0.2, 9.0,0.3, 9.3,0.4, 9.5,0.6, 9.7,1.0, 9.8,1.8, 9.9,3.5, 9.97,4.0, 10.05,3.8, 10.15,2.5, 10.25,1.5, 10.35,1.0, 10.5,1.1, 10.7,1.5, 10.85,1.7, 11.0,1.65, 11.2,1.55, 11.5,1.45, 12.0,1.3, 12.5,1.15, 13.0,1.0, 13.5,0.95, 14.0,0.9, 14.5,0.85, 15.0,0.85, 15.5,0.9, 16.0,0.95, 16.5,1.0, 17.0,1.1, 17.5,1.15, 18.0,1.2, 18.5,1.25, 19.0,1.25, 19.5,1.3, 20.0,1.3];

// ---------- Panel 4: Venus-like, cloudy ----------
const P4_LABELS = ['c / 13.8', 'd / 7.43', 'e / 3.15', 'f / 1.65', 'g / 1.05', 'h / 0.687'];
const P4_C = [2.5,6.0, 2.56,6.0, 2.6,0.5, 2.7,0.1, 2.9,0.2, 3.0,0.6, 3.05,1.0, 3.1,0.5, 3.15,1.8, 3.2,0.9, 3.25,2.4, 3.3,1.3, 3.35,3.5, 3.4,2.0, 3.45,5.0, 3.5,3.0, 3.55,6.0, 3.6,5.0, 3.65,3.0, 3.7,2.0, 3.73,3.5, 3.78,1.4, 3.83,2.4, 3.87,0.9, 3.92,1.6, 3.96,0.5, 4.05,0.4, 4.15,0.3, 4.3,0.25, 4.45,0.3, 4.55,0.5, 4.6,0.55, 4.65,0.3, 4.8,0.25, 4.9,0.6, 4.95,1.2, 5.0,2.4, 5.05,1.0, 5.1,0.5, 5.15,0.3, 5.25,0.5, 5.3,1.2, 5.35,2.5, 5.4,4.5, 5.45,3.0, 5.5,5.0, 5.6,3.5, 5.65,6.0, 5.75,2.5, 5.8,1.9, 5.85,4.5, 5.95,6.0, 6.05,3.0, 6.1,5.0, 6.2,3.8, 6.25,1.8, 6.3,4.5, 6.4,6.0, 6.5,3.0, 6.55,2.0, 6.6,1.7, 6.65,4.5, 6.75,2.6, 6.8,5.0, 6.9,6.0, 6.96,4.0, 7.03,3.2, 7.1,2.0, 7.15,1.3, 7.2,1.05, 7.3,1.0, 7.4,1.05, 7.5,1.3, 7.55,1.6, 7.6,1.9, 7.65,2.8, 7.7,2.2, 7.8,2.3, 7.9,2.4, 8.0,2.5, 8.1,2.8, 8.15,2.95, 8.2,2.8, 8.3,2.5, 8.4,2.2, 8.45,1.9, 8.5,1.65, 8.55,1.55, 8.6,1.6, 8.7,1.8, 8.8,1.9, 8.9,2.0, 8.98,2.1, 9.05,1.9, 9.1,1.7, 9.2,1.6, 9.3,1.55, 9.4,1.65, 9.5,1.8, 9.6,2.0, 9.7,2.3, 9.8,2.7, 9.9,3.1, 10.0,3.5, 10.05,3.1, 10.1,2.6, 10.2,2.2, 10.3,2.1, 10.4,2.2, 10.45,2.35, 10.5,1.9, 10.6,1.75, 10.7,1.75, 10.8,1.85, 10.9,2.0, 11.0,2.1, 11.1,2.3, 11.2,2.5, 11.3,2.75, 11.4,2.9, 11.5,3.0, 11.55,2.8, 11.6,2.95, 11.65,2.4, 11.7,2.7, 11.8,2.55, 11.9,2.35, 12.0,2.2, 12.1,1.95, 12.2,1.75, 12.3,1.7, 12.4,1.65, 12.5,1.55, 12.6,1.6, 12.7,1.5, 12.8,1.45, 13.0,1.4, 13.2,1.35, 13.5,1.25, 13.8,1.2, 14.0,1.17, 14.5,1.1, 15.0,1.05, 15.5,1.0, 16.0,0.95, 16.5,0.92, 17.0,0.88, 17.5,0.86, 18.0,0.85, 18.3,0.84, 18.5,0.78, 18.7,0.82, 19.0,0.78, 19.3,0.76, 19.6,0.72, 20.0,0.7];
const P4_D = [2.5,6.0, 2.55,6.0, 2.6,0.3, 2.7,0.1, 2.9,0.2, 3.0,0.35, 3.1,0.25, 3.2,0.4, 3.3,0.3, 3.4,0.42, 3.5,0.35, 3.6,0.4, 3.7,0.3, 3.8,0.35, 3.9,0.2, 4.0,0.15, 4.2,0.05, 4.4,0.05, 4.6,0.15, 4.7,0.1, 4.8,0.12, 5.0,0.1, 5.2,0.1, 5.4,0.12, 5.6,0.15, 5.8,0.18, 6.0,0.2, 6.2,0.22, 6.4,0.23, 6.6,0.25, 6.8,0.27, 7.0,0.3, 7.2,0.32, 7.4,0.35, 7.6,0.38, 7.8,0.42, 8.0,0.45, 8.2,0.48, 8.4,0.5, 8.6,0.52, 8.8,0.55, 9.0,0.58, 9.2,0.6, 9.4,0.62, 9.6,0.64, 9.8,0.66, 10.0,0.67, 10.2,0.68, 10.5,0.7, 10.8,0.73, 11.0,0.75, 11.3,0.78, 11.6,0.8, 12.0,0.82, 12.4,0.84, 12.8,0.85, 13.2,0.87, 13.4,0.88, 13.45,0.96, 13.6,0.95, 14.0,0.96, 14.5,0.97, 15.0,0.95, 15.5,0.9, 16.0,0.86, 16.2,0.85, 16.5,0.8, 17.0,0.77, 17.5,0.74, 18.0,0.71, 18.5,0.68, 19.0,0.65, 19.5,0.62, 20.0,0.6];
const P4_E = [2.5,6.0, 2.57,6.0, 2.62,0.4, 2.7,0.2, 2.9,0.3, 3.0,0.4, 3.05,0.25, 3.1,0.42, 3.2,0.35, 3.3,0.45, 3.4,0.38, 3.5,0.42, 3.6,0.35, 3.7,0.42, 3.8,0.38, 3.9,0.25, 4.0,0.15, 4.2,0.05, 4.5,0.05, 5.0,0.1, 5.5,0.18, 6.0,0.2, 6.5,0.25, 7.0,0.33, 7.3,0.3, 7.6,0.4, 8.0,0.55, 8.3,0.62, 8.6,0.6, 9.0,0.75, 9.3,0.85, 9.6,0.95, 9.8,1.05, 10.0,1.1, 10.3,1.12, 10.6,1.17, 11.0,1.25, 11.4,1.3, 11.8,1.33, 12.2,1.37, 12.6,1.42, 13.0,1.5, 13.2,1.52, 13.35,1.4, 13.5,1.25, 13.7,1.15, 14.0,1.05, 14.3,0.98, 14.6,0.93, 15.0,0.9, 15.3,0.92, 15.6,0.98, 16.0,1.1, 16.2,1.02, 16.3,1.15, 16.6,1.25, 17.0,1.33, 17.3,1.37, 17.6,1.36, 18.0,1.33, 18.5,1.29, 19.0,1.24, 19.5,1.2, 20.0,1.15];
const P4_F = [2.5,6.0, 2.58,6.0, 2.63,0.3, 2.7,0.1, 2.9,0.15, 3.0,0.3, 3.05,0.1, 3.1,0.35, 3.2,0.15, 3.3,0.4, 3.4,0.2, 3.5,0.35, 3.6,0.2, 3.7,0.3, 3.8,0.15, 3.9,0.1, 4.0,0.05, 5.3,0.05, 5.4,0.15, 5.5,0.35, 5.6,0.4, 5.7,0.3, 5.8,0.35, 5.9,0.28, 6.0,0.38, 6.1,0.3, 6.2,0.25, 6.4,0.22, 6.6,0.22, 6.8,0.25, 7.0,0.3, 7.2,0.22, 7.3,0.18, 7.4,0.22, 7.6,0.35, 7.8,0.45, 8.0,0.55, 8.2,0.65, 8.3,0.68, 8.5,0.6, 8.7,0.55, 8.9,0.7, 9.0,0.78, 9.2,0.85, 9.4,0.95, 9.6,1.05, 9.7,1.1, 9.8,1.3, 9.9,1.6, 10.0,1.85, 10.1,1.6, 10.2,1.45, 10.4,1.45, 10.6,1.5, 10.8,1.58, 11.0,1.65, 11.3,1.72, 11.6,1.78, 11.9,1.85, 12.1,1.9, 12.2,1.93, 12.4,1.9, 12.6,1.88, 12.65,1.6, 12.7,1.88, 12.8,1.85, 13.0,1.75, 13.2,1.6, 13.4,1.4, 13.5,1.25, 13.7,1.18, 14.0,1.1, 14.3,1.0, 14.6,0.92, 15.0,0.9, 15.3,0.92, 15.6,1.02, 16.0,1.2, 16.2,1.05, 16.3,1.3, 16.6,1.45, 17.0,1.58, 17.3,1.67, 17.6,1.72, 18.0,1.7, 18.5,1.65, 19.0,1.57, 19.3,1.6, 19.5,1.5, 19.8,1.45, 20.0,1.48];
const P4_G = [2.5,0.5, 2.6,0.2, 2.7,0.1, 2.9,0.2, 2.95,0.65, 3.0,0.2, 3.05,0.55, 3.1,0.1, 3.15,0.5, 3.2,0.15, 3.3,0.4, 3.35,0.1, 3.45,0.3, 3.5,0.05, 3.6,0.1, 3.7,0.0, 5.35,0.0, 5.4,0.3, 5.45,0.55, 5.5,0.65, 5.55,0.5, 5.6,0.7, 5.65,0.55, 5.7,0.68, 5.8,0.5, 5.9,0.55, 5.95,0.7, 6.0,0.6, 6.05,0.72, 6.1,0.6, 6.2,0.5, 6.3,0.35, 6.4,0.25, 6.6,0.22, 6.8,0.2, 7.0,0.18, 7.2,0.12, 7.3,0.1, 7.5,0.2, 7.7,0.35, 7.9,0.5, 8.1,0.6, 8.3,0.68, 8.5,0.45, 8.6,0.38, 8.7,0.45, 8.9,0.6, 9.1,0.7, 9.3,0.8, 9.5,0.88, 9.6,0.95, 9.7,1.2, 9.75,1.8, 9.8,2.25, 9.85,2.0, 9.9,2.3, 9.95,2.15, 10.0,2.32, 10.05,1.8, 10.1,1.6, 10.2,1.45, 10.3,1.35, 10.4,1.4, 10.6,1.48, 10.8,1.55, 11.0,1.6, 11.3,1.7, 11.6,1.78, 11.8,1.8, 12.0,1.9, 12.1,1.95, 12.2,1.9, 12.4,1.8, 12.6,1.75, 12.8,1.65, 13.0,1.5, 13.2,1.4, 13.4,1.3, 13.6,1.22, 13.8,1.2, 13.9,1.0, 14.0,1.1, 14.3,0.98, 14.6,0.9, 15.0,0.9, 15.3,0.95, 15.6,1.1, 16.0,1.3, 16.2,1.2, 16.3,1.4, 16.6,1.55, 17.0,1.7, 17.3,1.78, 17.6,1.84, 17.8,1.82, 18.0,1.78, 18.3,1.75, 18.6,1.7, 19.0,1.65, 19.3,1.72, 19.5,1.65, 19.8,1.6, 20.0,1.62];
const P4_H = [2.5,0.3, 2.6,0.0, 2.9,0.0, 3.0,0.5, 3.05,0.1, 3.1,0.4, 3.15,0.05, 3.2,0.3, 3.3,0.05, 3.4,0.2, 3.5,0.0, 5.4,0.0, 5.5,0.15, 5.6,0.25, 5.7,0.2, 5.8,0.22, 5.9,0.15, 6.0,0.22, 6.1,0.15, 6.2,0.1, 6.4,0.07, 6.6,0.06, 6.8,0.05, 7.0,0.05, 7.3,0.06, 7.6,0.1, 7.9,0.18, 8.1,0.22, 8.3,0.27, 8.5,0.2, 8.7,0.15, 8.9,0.2, 9.1,0.3, 9.3,0.45, 9.5,0.55, 9.6,0.65, 9.7,0.8, 9.75,1.2, 9.8,1.5, 9.85,1.3, 9.9,1.4, 10.0,1.2, 10.1,1.05, 10.2,0.92, 10.3,0.88, 10.4,0.95, 10.6,1.05, 10.8,1.15, 11.0,1.2, 11.2,1.28, 11.4,1.3, 11.6,1.3, 11.7,1.15, 11.8,1.28, 12.0,1.32, 12.2,1.3, 12.4,1.25, 12.6,1.2, 12.8,1.12, 13.0,1.08, 13.2,1.05, 13.5,1.02, 13.8,1.0, 14.0,1.0, 14.3,0.95, 14.6,0.88, 15.0,0.88, 15.3,0.92, 15.6,1.05, 16.0,1.2, 16.2,1.15, 16.3,1.3, 16.6,1.45, 17.0,1.55, 17.3,1.62, 17.6,1.7, 18.0,1.68, 18.3,1.65, 18.6,1.6, 19.0,1.55, 19.3,1.65, 19.5,1.55, 19.8,1.55, 20.0,1.6];

// ---------- annotations [x, y, text, colour]; "_n" marks a subscript ----------
type Note = [number, number, string, string];
const P1_NOTES: Note[] = [
  [4.03, 5.92, 'CO_2', RED], [6.47, 6.24, 'O_2−O_2', STEEL], [7.61, 9.57, 'CO_2', RED], [9.01, 9.57, 'CO_2', RED],
  [9.45, 4.7, 'O_3', GREEN], [10.72, 4.87, 'CO_2', RED], [13.48, 1.0, 'O_3', GREEN], [15.0, 1.5, 'CO_2', RED], [18.25, 3.1, 'CO_2', RED],
];
const P2_NOTES: Note[] = [
  [4.51, 11.45, 'CO_2', RED], [10.54, 10.2, 'CO_2', RED], [6.47, 4.52, 'H_2O', BLUE], [8.72, 2.73, 'SO_2', PINK],
  [10.54, 0.78, 'O_3', GREEN], [15.06, 2.52, 'CO_2', RED], [19.38, 3.58, 'SO_2', PINK],
];
const P3_NOTES: Note[] = [
  [7.52, 26.1, 'H_2O', BLUE], [7.54, 12.0, 'SO_2', PINK], [9.45, 11.5, 'CO_2', RED], [8.75, 9.26, 'SO_2', PINK],
  [10.56, 8.7, 'CO_2', RED], [4.52, 6.0, 'CO_2', RED], [15.08, 3.3, 'CO_2', RED],
];
const P4_NOTES: Note[] = [
  [4.51, 3.11, 'CO_2', RED], [6.34, 1.61, 'H_2O', BLUE], [8.77, 1.4, 'SO_2', PINK], [7.35, 0.81, 'SO_2', PINK],
  [9.3, 3.62, 'CO_2', RED], [10.8, 3.37, 'CO_2', RED], [15.08, 0.62, 'CO_2', RED], [19.1, 2.12, 'SO_2', PINK],
];

// ---------- ticks ----------
const X_TICKS_A = [3, 4, 5, 6, 7, 8, 9, 10, 11, 12, 13, 14, 15, 16, 17, 18, 19, 20];
const X_TICKS_B = [2, 3, 4, 5, 6, 7, 8, 9, 10, 11, 12, 13, 14, 15, 16, 17, 18, 19, 20];
const Y_TICKS_P1 = [0, 0.5, 1, 1.5, 2, 2.5, 3, 3.5, 4, 4.5, 5, 5.5, 6, 6.5, 7, 7.5, 8, 8.5, 9, 9.5, 10];
const Y_TICKS_P2 = [0, 1, 2, 3, 4, 5, 6, 7, 8, 9, 10, 11, 12, 13, 14, 15, 16, 17, 18, 19, 20];
const Y_TICKS_P3 = [0, 2, 4, 6, 8, 10, 12, 14, 16, 18, 20, 22, 24, 26, 28, 30, 32, 34, 36, 38, 40];
const Y_TICKS_P4 = [0, 0.2, 0.4, 0.6, 0.8, 1, 1.2, 1.4, 1.6, 1.8, 2, 2.2, 2.4, 2.6, 2.8, 3, 3.2, 3.4, 3.6, 3.8, 4];

const toPts = (a: number[]) => {
  const r: { x: number; y: number }[] = [];
  for (let i = 0; i + 1 < a.length; i += 2) r.push({ x: a[i], y: a[i + 1] });
  return r;
};

const COLS7 = [COL_B, COL_C, COL_D, COL_E, COL_F, COL_G, COL_H];
const COLS6 = [COL_C, COL_D, COL_E, COL_F, COL_G, COL_H];

type Box = { x: number; y: number; w: number; h: number };
type Plot = { l: number; t: number; r: number; b: number };
type PanelCfg = {
  box: Box; plot: Plot; xDom: [number, number]; yDom: [number, number];
  xTicks: number[]; yTicks: number[]; xStep: number; yStep: number;
  series: number[][]; labels: string[]; colors: string[]; notes: Note[];
  title: string; titleX: number; titleY: number;
  legend: { x: number; y: number; w: number; h: number; row0: number; lineX: number; textX: number };
  yLab: { x1: number; x2: number; cy: number }; xLabY: number;
};

const PANELS: PanelCfg[] = [
  {
    box: { x: 0, y: 0, w: 607, h: 470 }, plot: { l: 102, t: 50, r: 583, b: 401 },
    xDom: [2.5, 20], yDom: [0, 10], xTicks: X_TICKS_A, yTicks: Y_TICKS_P1, xStep: 5, yStep: 2,
    series: [P1_B, P1_C, P1_D, P1_E, P1_F, P1_G, P1_H], labels: P1_LABELS, colors: COLS7, notes: P1_NOTES,
    title: '10 bar O_2-dominated—Desiccated', titleX: 104, titleY: 35,
    legend: { x: 388, y: 55, w: 132, h: 189, row0: 71, lineX: 395, textX: 447 },
    yLab: { x1: 29, x2: 61, cy: 225.5 }, xLabY: 455,
  },
  {
    box: { x: 607, y: 0, w: 608, h: 470 }, plot: { l: 723, t: 50, r: 1201, b: 401 },
    xDom: [2.5, 20], yDom: [0, 20], xTicks: X_TICKS_A, yTicks: Y_TICKS_P2, xStep: 5, yStep: 5,
    series: [P2_B, P2_C, P2_D, P2_E, P2_F, P2_G, P2_H], labels: P2_LABELS, colors: COLS7, notes: P2_NOTES,
    title: '10 bar O_2-dominated—Outgassing', titleX: 725, titleY: 35,
    legend: { x: 1045, y: 114, w: 132, h: 188, row0: 128, lineX: 1052, textX: 1104 },
    yLab: { x1: 648, x2: 680, cy: 225.5 }, xLabY: 455,
  },
  {
    box: { x: 0, y: 470, w: 607, h: 470 }, plot: { l: 103, t: 527, r: 584, b: 879 },
    xDom: [1, 20], yDom: [0, 40], xTicks: X_TICKS_B, yTicks: Y_TICKS_P3, xStep: 5, yStep: 10,
    series: [P3_B, P3_C, P3_D, P3_E, P3_F, P3_G, P3_H], labels: P3_LABELS, colors: COLS7, notes: P3_NOTES,
    title: '10 bar Venus-Like—Clear Sky', titleX: 104, titleY: 518,
    legend: { x: 427, y: 592, w: 132, h: 189, row0: 607, lineX: 434, textX: 486 },
    yLab: { x1: 29, x2: 61, cy: 703 }, xLabY: 934,
  },
  {
    box: { x: 607, y: 470, w: 608, h: 470 }, plot: { l: 713, t: 522, r: 1200, b: 878 },
    xDom: [2.5, 20], yDom: [0, 4], xTicks: X_TICKS_A, yTicks: Y_TICKS_P4, xStep: 5, yStep: 1,
    series: [P4_C, P4_D, P4_E, P4_F, P4_G, P4_H], labels: P4_LABELS, colors: COLS6, notes: P4_NOTES,
    title: '10 bar Venus-Like—Cloudy', titleX: 715, titleY: 510,
    legend: { x: 1008, y: 534, w: 134, h: 166, row0: 549, lineX: 1014, textX: 1068 },
    yLab: { x1: 650, x2: 682, cy: 700 }, xLabY: 934,
  },
];

function chem(s: string, sub: number, shift: number) {
  const parts = s.split(/_(\d)/);
  const out: React.ReactNode[] = [];
  let down = false;
  parts.forEach((p, i) => {
    if (i % 2 === 1) {
      out.push(<tspan key={i} dy={shift} fontSize={sub}>{p}</tspan>);
      down = true;
    } else if (p) {
      out.push(<tspan key={i} dy={down ? -shift : 0}>{p}</tspan>);
      down = false;
    }
  });
  return out;
}

const isMajor = (v: number, step: number) => Math.abs(v / step - Math.round(v / step)) < 1e-6;
const fmt = (v: number) => String(Math.round(v * 100) / 100);

// Tick renderer: axis area is 1px thick, so (x, y) is the frame edge; ticks point inward.
function makeTick(side: 'bottom' | 'top' | 'left' | 'right', step: number, label: boolean) {
  return (p: any) => {
    const x = Number(p.x);
    const y = Number(p.y);
    const v = Number(p.payload?.value);
    const major = isMajor(v, step);
    const L = major ? 7 : 3.5;
    let x2 = x, y2 = y;
    if (side === 'bottom') y2 = y - L;
    if (side === 'top') y2 = y + L;
    if (side === 'left') x2 = x + L;
    if (side === 'right') x2 = x - L;
    return (
      <g>
        <line x1={x} y1={y} x2={x2} y2={y2} stroke="#000" strokeWidth={1} />
        {label && major && side === 'bottom' && (
          <text x={x} y={y + 26} textAnchor="middle" fontSize={22} fontFamily={FONT} fill="#000">{fmt(v)}</text>
        )}
        {label && major && side === 'left' && (
          <text x={x - 7} y={y + 7.5} textAnchor="end" fontSize={22} fontFamily={FONT} fill="#000">{fmt(v)}</text>
        )}
      </g>
    );
  };
}

const AX = { stroke: '#000', strokeWidth: 1.2 };

function axes(c: PanelCfg, draw: boolean) {
  return [
    <XAxis key="xb" xAxisId="b" orientation="bottom" type="number" dataKey="x" domain={c.xDom} allowDataOverflow
      ticks={c.xTicks} interval={0} height={1} tickSize={0} tickMargin={0} tickLine={false}
      axisLine={draw ? AX : false} tick={draw ? makeTick('bottom', c.xStep, true) : false} />,
    <XAxis key="xt" xAxisId="t" orientation="top" type="number" dataKey="x" domain={c.xDom} allowDataOverflow
      ticks={c.xTicks} interval={0} height={1} tickSize={0} tickMargin={0} tickLine={false}
      axisLine={draw ? AX : false} tick={draw ? makeTick('top', c.xStep, false) : false} />,
    <YAxis key="yl" yAxisId="l" orientation="left" type="number" domain={c.yDom} allowDataOverflow
      ticks={c.yTicks} interval={0} width={1} tickSize={0} tickMargin={0} tickLine={false}
      axisLine={draw ? AX : false} tick={draw ? makeTick('left', c.yStep, true) : false} />,
    <YAxis key="yr" yAxisId="r" orientation="right" type="number" domain={c.yDom} allowDataOverflow
      ticks={c.yTicks} interval={0} width={1} tickSize={0} tickMargin={0} tickLine={false}
      axisLine={draw ? AX : false} tick={draw ? makeTick('right', c.yStep, false) : false} />,
  ];
}

function Panel({ c }: { c: PanelCfg }) {
  // every axis takes 1px, so the margins are 1px smaller than the gap to the plot edge
  const margin = {
    left: c.plot.l - c.box.x - 1, top: c.plot.t - c.box.y - 1,
    right: c.box.x + c.box.w - c.plot.r - 1, bottom: c.box.y + c.box.h - c.plot.b - 1,
  };
  const pos: React.CSSProperties = { position: 'absolute', left: c.box.x, top: c.box.y, width: c.box.w, height: c.box.h };
  return (
    <>
      <div style={pos}>
        <LineChart width={c.box.w} height={c.box.h} margin={margin}>
          {axes(c, true)}
          {c.series.map((s, i) => (
            <Line key={i} xAxisId="b" yAxisId="l" data={toPts(s)} dataKey="y" type="linear"
              stroke={c.colors[i]} strokeWidth={1.6} dot={false} activeDot={false}
              isAnimationActive={false} name={c.labels[i]} />
          ))}
        </LineChart>
      </div>
      {/* annotation layer: same axes and scales, drawn on top of the spectra */}
      <div style={{ ...pos, pointerEvents: 'none' }}>
        <LineChart width={c.box.w} height={c.box.h} margin={margin}>
          {axes(c, false)}
          {c.notes.map((n, i) => (
            <ReferenceDot key={'n' + i} xAxisId="b" yAxisId="l" x={n[0]} y={n[1]} r={0}
              ifOverflow="visible"
              shape={(p: any) => (
                <text x={p.cx} y={p.cy + 7} textAnchor="middle" fontSize={21} fontFamily={FONT} fill={n[3]}>
                  {chem(n[2], 15, 5)}
                </text>
              )} />
          ))}
        </LineChart>
      </div>
    </>
  );
}

function Overlay() {
  return (
    <svg width={1215} height={940} style={{ position: 'absolute', left: 0, top: 0, pointerEvents: 'none' }}>
      {PANELS.map((c, k) => {
        const lg = c.legend;
        const cx = (c.plot.l + c.plot.r) / 2;
        return (
          <g key={k} fontFamily={FONT}>
            <text x={c.titleX} y={c.titleY} fontSize={26} fontWeight="bold" fill="#000">
              {chem(c.title, 18, 5)}
            </text>
            <text x={cx} y={c.xLabY} textAnchor="middle" fontSize={26} fill="#000">
              Wavelength (<tspan fontStyle="italic">λ</tspan>) [µm]
            </text>
            <text transform={`translate(${c.yLab.x1},${c.yLab.cy}) rotate(-90)`} textAnchor="middle" fontSize={26} fill="#000">
              Flux Normalized at 15 µm
            </text>
            <text transform={`translate(${c.yLab.x2},${c.yLab.cy}) rotate(-90)`} textAnchor="middle" fontSize={26} fill="#000">
              [W m<tspan dy={-10} fontSize={18}>−2</tspan><tspan dy={10}> µm</tspan><tspan dy={-10} fontSize={18}>−1</tspan><tspan dy={10}>]</tspan>
            </text>
            <rect x={lg.x} y={lg.y} width={lg.w} height={lg.h} rx={4} fill="#fff" fillOpacity={0.85} stroke="#d0d0d0" strokeWidth={1.2} />
            {c.labels.map((lab, i) => {
              const ry = lg.row0 + i * 26.2;
              return (
                <g key={i}>
                  <line x1={lg.lineX} y1={ry} x2={lg.lineX + 39} y2={ry} stroke={c.colors[i]} strokeWidth={2} />
                  <text x={lg.textX} y={ry + 6.5} fontSize={19} fill="#000">{lab}</text>
                </g>
              );
            })}
          </g>
        );
      })}
    </svg>
  );
}

export default function App() {
  return (
    <div style={{ position: 'absolute', left: 0, top: 0, width: 1215, height: 940, background: '#fff', fontFamily: FONT }}>
      {PANELS.map((c, i) => <Panel key={i} c={c} />)}
      <Overlay />
    </div>
  );
}
